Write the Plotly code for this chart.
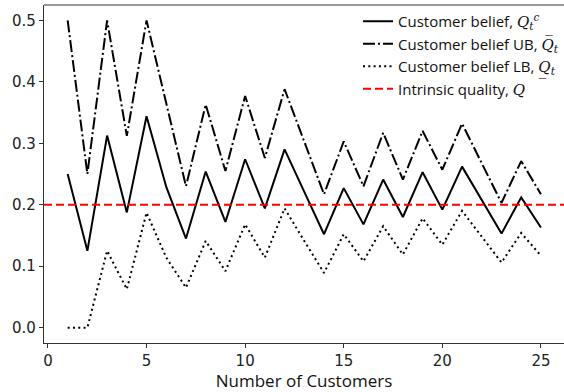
import plotly.graph_objects as go

customers = list(range(1, 26))
belief = [0.25, 0.125, 0.3125, 0.1875, 0.344, 0.229, 0.145, 0.254, 0.172, 0.274,
          0.194, 0.29, 0.221, 0.152, 0.227, 0.168, 0.241, 0.18, 0.253, 0.192,
          0.262, 0.208, 0.153, 0.212, 0.163]
belief_ub = [0.5, 0.25, 0.5, 0.312, 0.5, 0.365, 0.23, 0.363, 0.255, 0.377,
             0.276, 0.388, 0.302, 0.217, 0.303, 0.23, 0.317, 0.241, 0.32, 0.257,
             0.332, 0.267, 0.203, 0.271, 0.217]
belief_lb = [0.0, 0.0, 0.125, 0.0625, 0.187, 0.114, 0.065, 0.141, 0.092, 0.168,
             0.114, 0.194, 0.141, 0.089, 0.152, 0.108, 0.165, 0.119, 0.178, 0.135,
             0.19, 0.148, 0.106, 0.154, 0.117]
intrinsic_q = 0.2
x_ticks = [0, 5, 10, 15, 20, 25]
y_ticks = [0.0, 0.1, 0.2, 0.3, 0.4, 0.5]

TICK_FONT = dict(family="DejaVu Sans", size=15, color="#222")
TEXT_FONT = "Open Sans"
MATH = "font-family:'DejaVu Serif';font-style:italic"


def m(s):
    return f"<span style=\"{MATH}\">{s}</span>"


fig = go.Figure()
fig.add_trace(go.Scatter(x=customers, y=belief, mode="lines",
                         line=dict(color="black", width=2),
                         name="Customer belief, " + m("Q") + "<sub>" + m("t") + "</sub><sup>" + m("c") + "</sup>"))
fig.add_trace(go.Scatter(x=customers, y=belief_ub, mode="lines",
                         line=dict(color="black", width=2, dash="12px,3px,2px,3px"),
                         name="Customer belief UB, " + m("Q\u0305") + "<sub>" + m("t") + "</sub>"))
fig.add_trace(go.Scatter(x=customers, y=belief_lb, mode="lines",
                         line=dict(color="black", width=2, dash="2px,3.3px"),
                         name="Customer belief LB, " + m("Q\u0332") + "<sub>" + m("t") + "</sub>"))
fig.add_trace(go.Scatter(x=[None], y=[None], mode="lines",
                         line=dict(color="red", width=2, dash="8px,4px"),
                         name="Intrinsic quality, " + m("Q")))
fig.add_hline(y=intrinsic_q, line=dict(color="red", width=2, dash="8px,4px"))

fig.add_shape(type="line", xref="paper", yref="paper", x0=0, x1=1, y0=1, y1=1,
              line=dict(color="#333", width=1.2))

fig.update_layout(
    width=564, height=392,
    margin=dict(l=44, r=0, t=5, b=49),
    paper_bgcolor="white", plot_bgcolor="white",
    showlegend=True,
    legend=dict(x=1, y=1, xanchor="right", yanchor="top",
                font=dict(family=TEXT_FONT, size=15, color="#111"),
                bgcolor="rgba(255,255,255,0)", itemwidth=30,
                tracegroupgap=0),
)
fig.update_xaxes(range=[-0.2, 26.17], tickvals=x_ticks, ticks="outside", ticklen=4,
                 tickcolor="#333", showline=True, linecolor="#333", linewidth=1.2,
                 showgrid=False, zeroline=False, tickfont=TICK_FONT,
                 title=dict(text="Number of Customers", standoff=3,
                            font=dict(family=TEXT_FONT, size=17, color="#111")))
fig.update_yaxes(range=[-0.025, 0.525], tickvals=y_ticks, ticktext=[f"{v:.1f}" for v in y_ticks],
                 ticks="outside", ticklen=4, tickcolor="#333", showline=True,
                 linecolor="#333", linewidth=1.2, showgrid=False, zeroline=False,
                 tickfont=TICK_FONT)

fig.write_html("out.html")
